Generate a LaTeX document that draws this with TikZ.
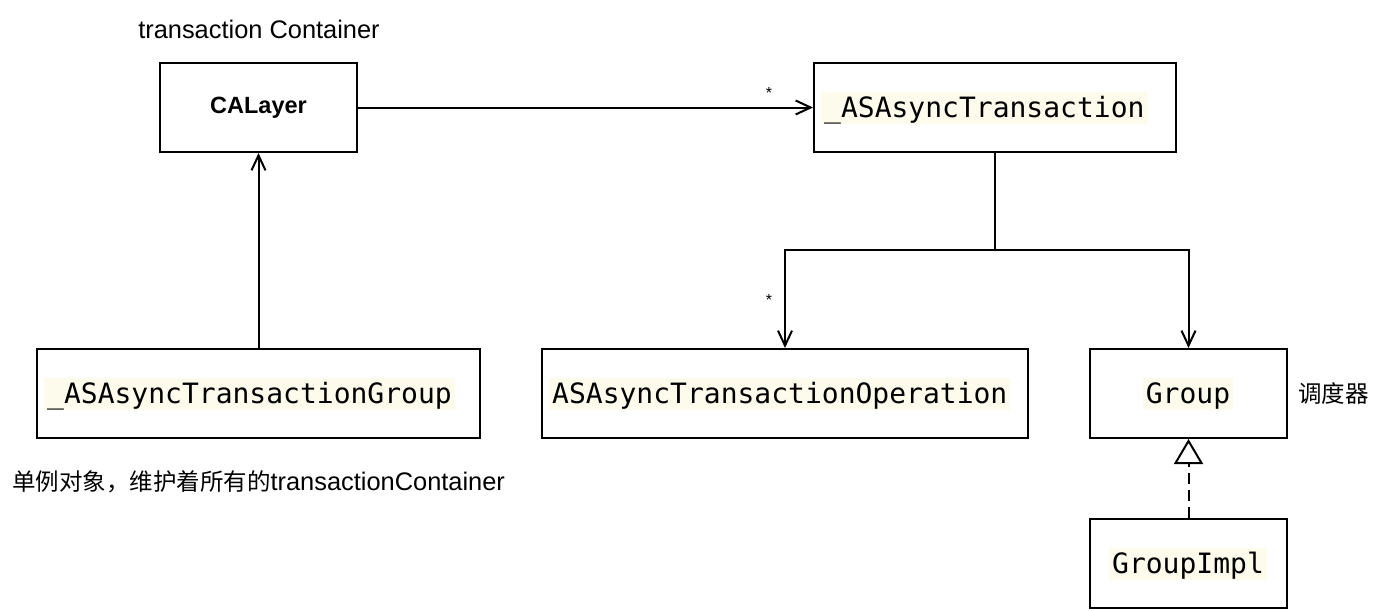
\documentclass[tikz,border=0pt]{standalone}
\usepackage{fontspec}
\setmainfont{Liberation Sans}
\newfontfamily\cjk{Noto Sans CJK SC}
\newfontfamily\monof{DejaVu Sans Mono}
\usetikzlibrary{arrows.meta}
\definecolor{hl}{RGB}{253,251,236}
\begin{document}
\begin{tikzpicture}[x=1pt,y=-1pt,
  box/.style={draw, line width=2pt, minimum height=89pt, inner sep=0pt},
  mono/.style={font=\monof\fontsize{28}{34}\selectfont, fill=hl, inner xsep=3pt, inner ysep=0pt, text height=25pt, text depth=7pt},
  sans/.style={font=\fontsize{25.4}{30}\selectfont, inner sep=0pt},
  star/.style={font=\fontsize{16}{18}\selectfont, inner sep=0pt},
  arr/.style={line width=2pt, -{Straight Barb[length=15pt,width=14pt]}},
  impl/.style={line width=2pt, dash pattern=on 11pt off 6pt, -{Triangle[length=25pt,width=29pt,fill=white]}},
  conn/.style={line width=2pt}]
\useasboundingbox (0,0) rectangle (1380,610);
% boxes
\node[box, minimum width=197pt] (cal) at (258.5,107.5) {};
\node[box, minimum width=362pt] (tr) at (995,107.5) {};
\node[box, minimum width=443pt] (grp) at (258.5,393.5) {};
\node[box, minimum width=486pt] (op) at (785,393.5) {};
\node[box, minimum width=197pt] (gp) at (1188.5,393.5) {};
\node[box, minimum width=197pt] (gi) at (1188.5,563.5) {};
% box texts
\node[inner sep=0pt, font=\bfseries\fontsize{23.5}{28}\selectfont] (calt) at (cal) {CALayer};
\node[mono, anchor=west] (trt) at (821,108) {\_ASAsyncTransaction};
\node[mono, anchor=west] (grpt) at (44,394) {\_ASAsyncTransactionGroup};
\node[mono, anchor=west] (opt) at (549,394) {ASAsyncTransactionOperation};
\node[mono] (gpt) at (1188,394) {Group};
\node[mono] (git) at (1188,564) {GroupImpl};
% free texts
\node[sans] (tc) at (259,29) {transaction Container};
\node[sans] (cap) at (258.5,482) {{\cjk\fontsize{23.5}{28}\selectfont 单例对象，维护着所有的}transactionContainer};
\node[sans, font=\cjk\fontsize{23.5}{28}\selectfont, anchor=west] (ddq) at (1298,394) {调度器};
% connectors
\draw[arr] (cal.east) -- (tr.west);
\node[star] (s1) at (769,93) {*};
\draw[arr] (grp.north) -- (cal.south);
\coordinate (j) at (tr.south |- 0,250);
\draw[conn] (tr.south) -- (j);
\draw[arr] (j) -| (op.north);
\draw[arr] (j) -| (gp.north);
\node[star] (s2) at (769,300) {*};
\draw[impl] (gi.north) -- (gp.south);
\end{tikzpicture}
\end{document}
